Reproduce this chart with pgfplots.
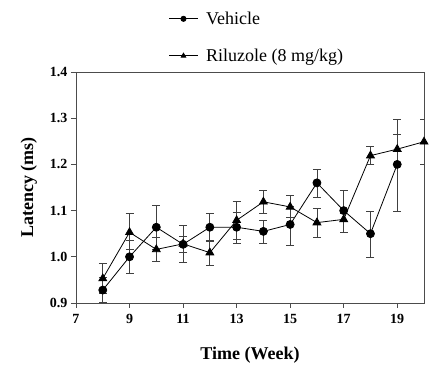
\documentclass[border=0pt]{standalone}
\usepackage{pgfplots}
\pgfplotsset{compat=1.18}
\usepackage{fontspec}
\setmainfont{Liberation Serif}
\begin{document}
\begin{tikzpicture}
\begin{axis}[
  name=ax,
  scale only axis,
  width=348pt, height=231pt,
  xmin=7, xmax=20, ymin=0.9, ymax=1.4,
  xtick={7,9,11,13,15,17,19},
  ytick={0.9,1.0,1.1,1.2,1.3,1.4},
  yticklabel style={/pgf/number format/.cd, fixed, fixed zerofill, precision=1},
  xticklabel style={yshift=-3pt},
  /pgf/number format/assume math mode=true,
  ticklabel style={font=\fontsize{14}{16}\selectfont\bfseries},
  tick align=outside,
  tick pos=left,
  major tick length=5pt,
  axis line style={draw=black!70, line width=0.8pt},
  tick style={draw=black!70, line width=0.8pt},
  xlabel={Time (Week)},
  ylabel={Latency (ms)},
  label style={font=\fontsize{18}{20}\selectfont\bfseries},
  xlabel style={yshift=-16pt},
  ylabel style={yshift=6pt},
  legend style={at={(0.52,1.0)}, anchor=south, yshift=5pt, draw=none, fill=none,
    font=\fontsize{18}{21}\selectfont, row sep=19pt, column sep=6pt, cells={anchor=west}},
  legend cell align=left,
  legend image code/.code={
    \draw[#1, mark size=2.6pt, mark repeat=2, mark phase=2] plot coordinates {(0cm,0cm) (0.5cm,0cm) (1.0cm,0cm)};},
  error bars/error bar style={draw=black!75, line width=0.8pt},
  error bars/error mark options={rotate=90, mark size=4pt, draw=black!75, line width=0.8pt},
]
\addplot[black, line width=0.8pt, mark=*, mark size=4pt,
  error bars/.cd, y dir=both, y explicit]
  coordinates {
  (8,0.928) += (0,0.027) -= (0,0.026)
  (9,1.000) += (0,0.035) -= (0,0.037)
  (10,1.064) += (0,0.047) -= (0,0.047)
  (11,1.027) += (0,0.041) -= (0,0.039)
  (12,1.064) += (0,0.029) -= (0,0.030)
  (13,1.064) += (0,0.032) -= (0,0.034)
  (14,1.055) += (0,0.023) -= (0,0.025)
  (15,1.070) += (0,0.040) -= (0,0.046)
  (16,1.160) += (0,0.030) -= (0,0.032)
  (17,1.100) += (0,0.043) -= (0,0.047)
  (18,1.050) += (0,0.048) -= (0,0.052)
  (19,1.200) += (0,0.098) -= (0,0.101)
  };
\addlegendentry{Vehicle}
\addplot[black, line width=0.8pt, mark=triangle*, mark size=4.5pt,
  error bars/.cd, y dir=both, y explicit]
  coordinates {
  (8,0.953) += (0,0.033) -= (0,0.033)
  (9,1.053) += (0,0.040) -= (0,0.038)
  (10,1.016) += (0,0.025) -= (0,0.025)
  (11,1.028) += (0,0.017) -= (0,0.018)
  (12,1.009) += (0,0.026) -= (0,0.028)
  (13,1.079) += (0,0.041) -= (0,0.042)
  (14,1.119) += (0,0.024) -= (0,0.025)
  (15,1.108) += (0,0.024) -= (0,0.023)
  (16,1.074) += (0,0.030) -= (0,0.031)
  (17,1.081) += (0,0.013) -= (0,0.028)
  (18,1.219) += (0,0.019) -= (0,0.020)
  (19,1.233) += (0,0.032) -= (0,0.033)
  (20,1.249) += (0,0.049) -= (0,0.049)
  };
\addlegendentry{Riluzole (8 mg/kg)}
\end{axis}
\path (ax.south west) ++(-76pt,-65pt);
\path (ax.north east) ++(19pt,72pt);
\end{tikzpicture}
\end{document}
